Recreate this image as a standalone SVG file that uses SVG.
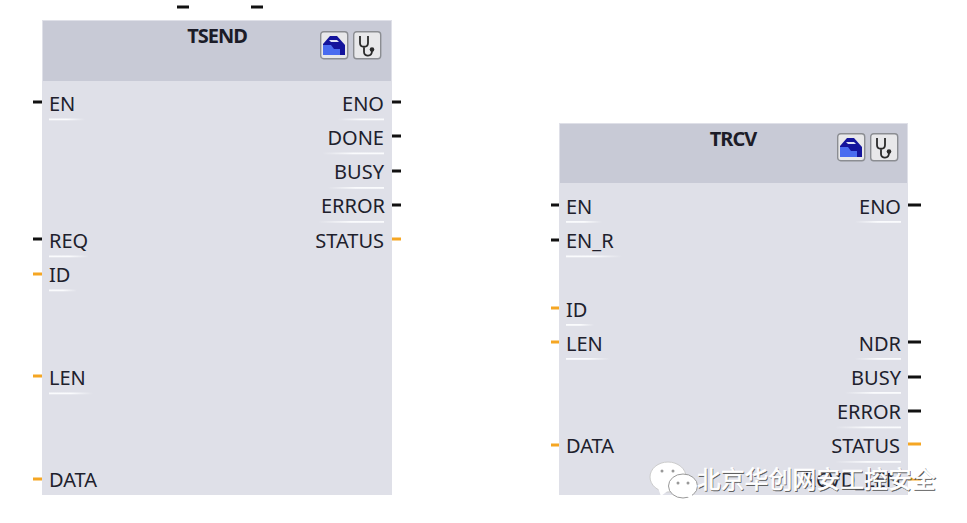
<svg xmlns="http://www.w3.org/2000/svg" width="967" height="523" viewBox="0 0 967 523">
<style>
.body{fill:#dfe0e8}
.head{fill:#c8cad6}
text{font-family:"Noto Sans","Open Sans","Liberation Sans",sans-serif}
.pin{font-size:20px;fill:#20202c}
.r{text-anchor:end}
.title{font-size:20px;font-weight:700;fill:#1c1c28;text-anchor:middle;letter-spacing:-1px}
.ul-l{fill:url(#fadeR)}
.ul-r{fill:url(#fadeL)}
.blk{stroke:#111;stroke-width:3;fill:none}
.org{stroke:#f5a623;stroke-width:3;fill:none}
.btn{fill:#e8e8ea;stroke:#8b8d92;stroke-width:1.4}
.wm{font-family:"Noto Sans CJK SC",sans-serif;font-size:23.5px;letter-spacing:.4px}
</style>
<defs>
<linearGradient id="fadeR"><stop offset="0" stop-color="#fafbfd"/><stop offset="0.5" stop-color="#fafbfd"/><stop offset="1" stop-color="#fafbfd" stop-opacity="0"/></linearGradient>
<linearGradient id="fadeL"><stop offset="0" stop-color="#fafbfd" stop-opacity="0"/><stop offset="0.5" stop-color="#fafbfd"/><stop offset="1" stop-color="#fafbfd"/></linearGradient>
<g id="icons">
<rect class="btn" x="0.7" y="0.7" width="27" height="27" rx="3"/>
<path d="M3 24V13L10 5H17L25 14V24Z" fill="#14149c"/>
<path d="M3 24V14L11 14L14 18H20V24Z" fill="#4a6cf0"/>
<path d="M9 9H17L19 11H11Z" fill="#dfe3f5"/>
<rect class="btn" x="33.7" y="0.7" width="27" height="27" rx="3"/>
<path d="M40 5V12C40 17 48 17 48 12V5M44 16V21C44 26 52 26 52 20" fill="none" stroke="#2a2a2a" stroke-width="1.8"/>
<circle cx="52" cy="18.500" r="2.300" fill="#2a2a2a"/>
</g>
<g id="bubbles">
<ellipse cx="19" cy="16" rx="18" ry="15" fill="#fff" stroke="#ccc"/>
<path d="M9 27L12 35L20 29Z" fill="#fff"/>
<ellipse cx="34" cy="25" rx="14.500" ry="12" fill="#fff" stroke="#999"/>
<path d="M38 35L43 40L43 32Z" fill="#fff"/>
<circle cx="13" cy="10" r="1.500" fill="#999"/><circle cx="24" cy="10" r="1.500" fill="#999"/>
<circle cx="29" cy="22" r="1.500" fill="#999"/><circle cx="39" cy="22" r="1.500" fill="#999"/>
</g>
</defs>

<g id="connectors">
<path class="blk" d="M177 7H189M251 7H263"/>
<path class="blk" d="M33 102H42M33 239H42M392 102H401M392 136H401M392 171H401M392 205H401"/>
<path class="org" d="M33 274H42M33 376H42M33 479H42M392 239H401"/>
<path class="blk" d="M551 205H559M551 240H559M908 205H921M908 342H921M908 377H921M908 411H921"/>
<path class="org" d="M551 308H559M551 342H559M551 445H559M908 444H921M908 479H921"/>
</g>

<g id="tsend">
<rect class="body" x="42" y="20" width="350" height="475"/>
<rect class="head" x="43" y="21" width="348" height="60"/>
<text class="title" x="217" y="43">TSEND</text>
<use href="#icons" x="320" y="31"/>
<text class="pin" x="49" y="111">EN</text>
<text class="pin" x="49" y="248">REQ</text>
<text class="pin" x="49" y="282">ID</text>
<text class="pin" x="49" y="385">LEN</text>
<text class="pin" x="49" y="487">DATA</text>
<text class="pin r" x="384" y="111">ENO</text>
<text class="pin r" x="384" y="145">DONE</text>
<text class="pin r" x="384" y="179">BUSY</text>
<text class="pin r" x="385" y="213">ERROR</text>
<text class="pin r" x="384" y="248">STATUS</text>
<rect class="ul-l" x="49" y="118.500" width="36" height="1.800"/>
<rect class="ul-l" x="49" y="255.500" width="40" height="1.800"/>
<rect class="ul-l" x="49" y="289.500" width="28" height="1.800"/>
<rect class="ul-l" x="49" y="392.500" width="44" height="1.800"/>
<rect class="ul-r" x="338" y="118.500" width="46" height="1.800"/>
<rect class="ul-r" x="322" y="152.500" width="62" height="1.800"/>
<rect class="ul-r" x="328" y="187" width="56" height="1.800"/>
<rect class="ul-r" x="318" y="221" width="66" height="1.800"/>
</g>

<g id="trcv">
<rect class="body" x="559" y="123" width="349" height="372"/>
<rect class="head" x="560" y="124" width="347" height="59"/>
<text class="title" x="733" y="146">TRCV</text>
<use href="#icons" x="837" y="133"/>
<text class="pin" x="566" y="214">EN</text>
<text class="pin" x="566" y="248">EN_R</text>
<text class="pin" x="566" y="317">ID</text>
<text class="pin" x="566" y="351">LEN</text>
<text class="pin" x="566" y="453">DATA</text>
<text class="pin r" x="901" y="214">ENO</text>
<text class="pin r" x="901" y="351">NDR</text>
<text class="pin r" x="901" y="385">BUSY</text>
<text class="pin r" x="901" y="419">ERROR</text>
<text class="pin r" x="900" y="453">STATUS</text>
<text class="pin r" x="901" y="487">RCVD_LEN</text>
<rect class="ul-l" x="566" y="221" width="36" height="1.800"/>
<rect class="ul-l" x="566" y="255.500" width="56" height="1.800"/>
<rect class="ul-l" x="566" y="324" width="28" height="1.800"/>
<rect class="ul-l" x="566" y="358" width="44" height="1.800"/>
<rect class="ul-r" x="855" y="221" width="46" height="1.800"/>
<rect class="ul-r" x="855" y="358" width="46" height="1.800"/>
<rect class="ul-r" x="845" y="392" width="56" height="1.800"/>
<rect class="ul-r" x="835" y="426.500" width="66" height="1.800"/>
<rect class="ul-r" x="835" y="461" width="66" height="1.800"/>
</g>

<g id="watermark">
<use href="#bubbles" x="649" y="461"/>
<text class="wm" x="697.800" y="488.800" fill="#555" stroke="#555" stroke-width=".5">北京华创网安工控安全</text>
<text class="wm" x="697" y="488" fill="#fff" stroke="#fff" stroke-width=".7">北京华创网安工控安全</text>
</g>
</svg>
